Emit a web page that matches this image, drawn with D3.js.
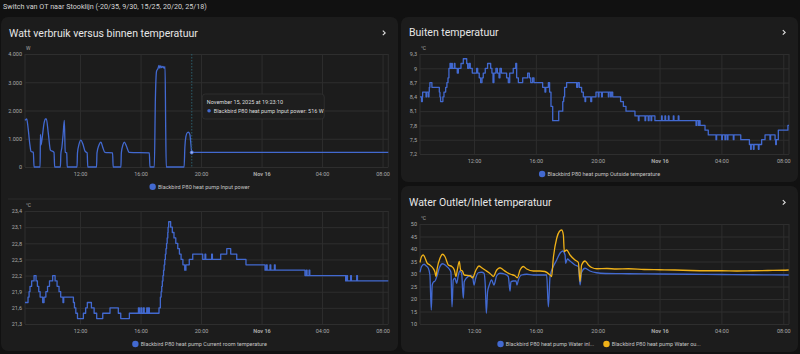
<!DOCTYPE html>
<html>
<head>
<meta charset="utf-8">
<script src="https://cdn.jsdelivr.net/npm/d3@7"></script>
<style>
body { margin: 0; background: #111111; font-family: Roboto, "Noto Sans", sans-serif; }
svg { display: block; }
</style>
</head>
<body>
<div id="dash"></div>
<script>
// hours since Nov 15 2025 00:00
const timeTicks = [12, 16, 20, 24, 28, 32]
const timeTickLabels = ["12:00", "16:00", "20:00", "Nov 16", "04:00", "08:00"]

const powerTicks = [0, 1000, 2000, 3000, 4000]
const roomTicks = [21.3, 21.6, 21.9, 22.2, 22.5, 22.8, 23.1, 23.4]
const outsideTicks = [7.2, 7.5, 7.8, 8.1, 8.4, 8.7, 9, 9.3]
const waterTicks = [10, 15, 20, 25, 30, 35, 40, 45, 50]

const inputPower = [[8.36,1650],[8.47,1700],[8.55,1450],[8.68,800],[8.76,550],[8.91,520],[8.96,0],[9.36,0],[9.38,1150],[9.42,780],[9.5,1050],[9.62,1550],[9.71,1700],[9.77,1700],[9.9,1200],[10.04,600],[10.28,520],[10.32,0],[10.70,0],[10.73,450],[10.8,700],[10.88,1150],[10.96,1650],[11.02,520],[11.12,500],[11.15,0],[11.80,0],[11.83,500],[11.93,800],[12.05,950],[12.18,820],[12.33,560],[12.47,500],[12.51,0],[13.09,0],[13.12,500],[13.24,760],[13.38,880],[13.5,700],[13.64,520],[14.15,500],[14.19,0],[14.70,0],[14.73,500],[14.84,790],[14.93,880],[15.05,760],[15.25,520],[16.58,500],[16.62,0],[16.91,0],[16.98,2400],[17.06,3400],[17.15,3480],[17.22,3600],[17.27,3500],[17.33,3580],[17.4,3520],[17.48,3560],[17.55,3500],[17.62,3550],[17.66,1500],[17.7,0],[18.88,0],[18.93,700],[19.0,1080],[19.1,1220],[19.17,1230],[19.26,1150],[19.33,800],[19.386,516],[32.38,516]]

const roomTemp = [[8.36,21.7],[8.56,21.8],[8.63,21.9],[8.69,22.0],[8.80,22.1],[8.96,22.2],[9.09,22.1],[9.18,22.0],[9.27,21.9],[9.36,21.8],[9.53,21.7],[9.62,21.8],[9.74,21.9],[9.85,22.0],[9.98,22.1],[10.19,22.2],[10.35,22.1],[10.48,22.0],[10.61,21.9],[10.72,21.8],[10.87,21.7],[10.92,21.8],[11.56,21.7],[11.63,21.6],[11.72,21.5],[11.83,21.4],[12.22,21.5],[12.37,21.6],[12.48,21.7],[12.75,21.6],[12.93,21.5],[13.10,21.4],[13.50,21.5],[13.98,21.6],[14.53,21.5],[14.69,21.4],[15.26,21.5],[15.86,21.6],[15.92,21.5],[16.02,21.6],[16.08,21.5],[16.19,21.6],[16.24,21.5],[16.41,21.6],[16.46,21.5],[16.52,21.6],[16.58,21.5],[17.22,21.6],[17.31,21.8],[17.36,21.9],[17.40,22.0],[17.44,22.1],[17.48,22.2],[17.52,22.3],[17.56,22.4],[17.60,22.5],[17.64,22.6],[17.68,22.7],[17.72,22.8],[17.76,22.9],[17.80,23.0],[17.82,23.1],[17.86,23.2],[17.99,23.1],[18.10,23.0],[18.21,22.9],[18.33,22.8],[18.46,22.7],[18.57,22.6],[18.68,22.5],[18.80,22.4],[18.92,22.3],[19.0,22.4],[19.22,22.5],[19.45,22.6],[20.11,22.5],[20.26,22.6],[20.31,22.5],[20.70,22.6],[20.75,22.5],[21.30,22.6],[21.70,22.7],[21.96,22.6],[22.36,22.5],[22.97,22.4],[24.23,22.3],[24.32,22.4],[24.37,22.3],[24.56,22.4],[24.61,22.3],[24.85,22.4],[24.90,22.3],[26.87,22.2],[26.96,22.3],[27.01,22.2],[27.14,22.3],[27.19,22.2],[29.56,22.1],[29.63,22.2],[29.68,22.1],[29.89,22.2],[29.94,22.1],[30.29,22.2],[30.34,22.1],[32.38,22.1]]

const outsideTemp = [[8.51,8.4],[8.61,8.3],[8.66,8.4],[8.68,8.5],[8.90,8.4],[8.94,8.5],[9.05,8.4],[9.09,8.5],[9.11,8.6],[9.15,8.7],[9.28,8.6],[9.76,8.5],[9.80,8.4],[9.84,8.3],[9.99,8.4],[10.06,8.5],[10.17,8.6],[10.25,8.7],[10.32,8.8],[10.38,9.0],[10.45,9.1],[10.49,9.0],[10.56,9.1],[10.60,9.0],[10.73,9.1],[10.77,9.0],[10.92,8.9],[10.99,9.0],[11.16,9.1],[11.31,9.2],[11.53,9.1],[11.59,9.0],[11.68,9.1],[11.76,9.0],[11.89,8.9],[12.17,9.0],[12.24,8.9],[12.34,8.8],[12.43,8.7],[12.52,8.8],[12.60,8.9],[12.73,9.0],[12.88,9.1],[13.08,9.0],[13.16,8.9],[13.23,8.7],[13.29,8.9],[13.42,9.0],[13.51,8.9],[13.62,8.8],[13.68,9.0],[13.77,8.9],[14.11,8.8],[14.22,8.7],[14.31,8.9],[14.54,9.0],[14.70,9.1],[14.76,8.8],[14.87,8.7],[15.15,8.8],[15.47,8.9],[15.58,8.8],[15.67,8.7],[15.79,8.8],[15.88,8.7],[16.44,8.6],[16.59,8.5],[16.64,8.6],[16.81,8.7],[16.89,8.5],[16.98,8.2],[17.09,7.9],[17.48,8.1],[17.74,8.3],[17.80,8.4],[17.86,8.6],[17.99,8.7],[18.64,8.6],[18.71,8.7],[18.81,8.6],[18.96,8.5],[19.07,8.4],[19.18,8.3],[19.22,8.4],[19.55,8.3],[19.61,8.4],[19.89,8.5],[20.04,8.4],[20.08,8.5],[20.25,8.4],[20.30,8.5],[20.69,8.4],[20.73,8.5],[20.84,8.4],[20.88,8.5],[20.97,8.4],[21.48,8.3],[21.66,8.2],[21.83,8.1],[22.41,8.0],[22.63,7.9],[22.67,8.0],[23.06,7.9],[23.10,8.0],[23.27,7.9],[23.32,8.0],[23.45,7.9],[23.49,8.0],[23.70,7.9],[24.13,8.0],[24.17,7.9],[24.35,8.0],[24.39,7.9],[24.57,8.0],[24.61,7.9],[24.89,8.0],[24.93,7.9],[25.21,8.0],[25.25,7.9],[26.36,7.8],[26.40,7.9],[26.51,7.8],[26.55,7.9],[26.62,7.8],[26.94,7.7],[27.15,7.6],[27.65,7.5],[27.69,7.6],[28.02,7.5],[28.06,7.6],[28.23,7.5],[28.27,7.6],[28.38,7.5],[28.42,7.6],[28.77,7.5],[28.81,7.6],[29.25,7.5],[29.81,7.4],[29.89,7.3],[29.93,7.4],[30.07,7.3],[30.11,7.4],[30.39,7.3],[30.43,7.4],[30.60,7.5],[30.82,7.6],[31.14,7.5],[31.18,7.6],[31.47,7.5],[31.51,7.4],[31.55,7.5],[31.68,7.7],[32.30,7.8],[32.37,7.8]]

const waterInlet = [[8.51,30.7],[8.61,33.0],[8.77,33.9],[8.90,33.3],[9.05,32.3],[9.15,29.6],[9.24,15.6],[9.30,25.6],[9.37,26.7],[9.48,27.2],[9.63,29.6],[9.76,32.5],[9.97,34.1],[10.19,33.3],[10.40,32.0],[10.51,30.7],[10.58,16.9],[10.66,27.6],[10.77,28.3],[10.88,26.3],[10.99,29.6],[11.09,31.2],[11.20,30.3],[11.31,20.3],[11.37,26.9],[11.53,28.5],[11.74,29.3],[11.91,29.0],[12.00,25.6],[12.11,28.3],[12.28,30.5],[12.50,30.7],[12.65,30.3],[12.73,25.6],[12.80,14.3],[12.88,22.9],[12.99,25.6],[13.14,27.6],[13.29,25.6],[13.47,29.3],[13.68,30.3],[14.01,29.9],[14.22,29.0],[14.33,23.2],[14.39,26.9],[14.54,27.2],[14.72,27.2],[14.78,25.6],[14.87,27.6],[15.08,29.6],[15.41,29.9],[15.84,29.6],[16.70,29.6],[16.81,16.9],[16.92,29.0],[17.13,33.0],[17.35,35.6],[17.56,38.3],[17.74,39.2],[17.89,37.6],[17.93,34.3],[18.04,36.0],[18.21,35.2],[18.53,33.6],[18.75,33.0],[18.86,25.6],[18.96,30.7],[19.18,32.3],[19.50,31.2],[19.93,30.5],[20.5,30.2],[22,30.1],[24,30.0],[26,29.9],[28,29.8],[30,29.7],[32.35,29.6]]

const waterOutlet = [[8.51,34.6],[8.61,37.0],[8.72,37.6],[8.83,36.5],[8.98,34.3],[9.15,33.6],[9.33,32.5],[9.48,30.7],[9.54,29.0],[9.63,32.5],[9.80,36.3],[9.97,37.9],[10.12,37.0],[10.34,33.6],[10.56,33.0],[10.73,31.6],[10.84,29.0],[10.92,31.6],[11.05,35.0],[11.14,31.6],[11.25,31.2],[11.37,29.6],[11.74,29.3],[11.91,28.5],[12.13,31.6],[12.32,33.2],[12.50,32.5],[12.71,31.6],[12.93,30.7],[13.14,29.6],[13.25,29.0],[13.47,31.6],[13.68,32.5],[13.90,31.6],[14.11,30.7],[14.37,29.9],[14.65,29.3],[14.80,28.5],[14.98,31.6],[15.19,33.0],[15.41,32.0],[15.84,31.2],[16.27,31.2],[16.59,31.0],[16.92,29.6],[17.02,29.0],[17.13,36.3],[17.35,44.3],[17.52,47.0],[17.67,47.6],[17.78,45.6],[17.84,39.0],[17.99,39.6],[18.21,37.6],[18.53,35.6],[18.75,34.6],[18.86,27.0],[18.96,33.6],[19.18,35.2],[19.40,33.6],[19.61,32.6],[19.95,32.1],[20.6,32.2],[21.2,32.0],[22.0,32.1],[23.0,31.8],[24.0,31.7],[25.0,31.6],[26.0,31.4],[27.0,31.3],[28.0,31.3],[29.0,31.2],[30.0,31.3],[31.0,31.4],[32.0,31.5],[32.35,31.6]]

const hoverPoint = { h: 19.386, value: 516, label: "November 15, 2025 at 19:23:10" }

const BLUE = "#4269d0", YELLOW = "#efb118"
const GRID = "#2e2e2e", LABEL = "#a9a9a9"

const base = new Date(2025, 10, 15)
function toDate(h){ return new Date(base.getTime() + h * 3600e3) }

const nl = d3.formatLocale({ decimal: ",", thousands: ".", grouping: [3], currency: ["€", ""] })

const svg = d3.select("#dash").append("svg")
    .attr("width", 800)
    .attr("height", 354)

svg.append("text")
    .attr("x", 3).attr("y", 9.3)
    .attr("fill", "#d4d4d4")
    .attr("font-size", 7.2)
    .text("Switch van OT naar Stooklijn (-20/35, 9/30, 15/25, 20/20, 25/18)")

// cards
const cards = [
    { x: 1, y: 17, w: 397, h: 334, title: "Watt verbruik versus binnen temperatuur", ty: 36.5 },
    { x: 401, y: 17, w: 397, h: 165, title: "Buiten temperatuur", ty: 36 },
    { x: 401, y: 186, w: 397, h: 166, title: "Water Outlet/Inlet temperatuur", ty: 206 }
]
cards.forEach(function(c){
    svg.append("rect")
        .attr("x", c.x).attr("y", c.y).attr("width", c.w).attr("height", c.h)
        .attr("rx", 7).attr("fill", "#1c1c1c")
    svg.append("text")
        .attr("x", c.x + 8).attr("y", c.ty)
        .attr("fill", "#e6e6e6")
        .attr("font-size", 10.5)
        .text(c.title)
    var cx = c.x + c.w - 14, cy = c.ty - 3.6
    svg.append("path")
        .attr("d", "M" + (cx - 1.2) + "," + (cy - 2.3) + "l2.4,2.3l-2.4,2.3")
        .attr("fill", "none").attr("stroke", "#e0e0e0").attr("stroke-width", 1.1)
})

// separator between the two charts of the left card
svg.append("line")
    .attr("x1", 8).attr("x2", 391).attr("y1", 199).attr("y2", 199)
    .attr("stroke", "#2b2b2b").attr("stroke-width", 1)

function drawChart(cfg){
    var g = svg.append("g")
    var x = d3.scaleTime().domain(cfg.domain.map(toDate)).range([cfg.left, cfg.right])
    var y = d3.scaleLinear().domain(d3.extent(cfg.ticks)).range([cfg.bottom, cfg.top])

    var yAxis = g.append("g")
        .attr("transform", "translate(" + cfg.left + ",0)")
        .call(d3.axisLeft(y).tickValues(cfg.ticks).tickFormat(cfg.fmt)
            .tickSize(-(cfg.right - cfg.left)).tickPadding(3))
    var xAxis = g.append("g")
        .attr("transform", "translate(0," + cfg.bottom + ")")
        .call(d3.axisBottom(x).tickValues(timeTicks.map(toDate))
            .tickFormat(function(d, i){ return timeTickLabels[i] })
            .tickSize(-(cfg.bottom - cfg.top)).tickPadding(5.2))
    ;[yAxis, xAxis].forEach(function(a){
        a.select(".domain").remove()
        a.selectAll("line").attr("stroke", GRID).attr("stroke-width", 1)
        a.selectAll("text").attr("fill", LABEL).attr("font-size", 5.5)
            .attr("font-family", "Roboto, sans-serif")
    })
    xAxis.selectAll("text").attr("font-weight", function(d, i){ return i == 3 ? "bold" : null })

    // plot boundaries
    g.selectAll(".edge").data(cfg.domain).enter().append("line")
        .attr("class", "edge")
        .attr("x1", function(d){ return x(toDate(d)) }).attr("x2", function(d){ return x(toDate(d)) })
        .attr("y1", cfg.top).attr("y2", cfg.bottom)
        .attr("stroke", GRID)

    g.append("text")
        .attr("x", cfg.left + 1).attr("y", cfg.top - 4)
        .attr("fill", LABEL).attr("font-size", 5)
        .text(cfg.unit)

    var line = d3.line()
        .x(function(d){ return x(toDate(d[0])) })
        .y(function(d){ return y(d[1]) })
        .curve(cfg.curve)
    cfg.series.forEach(function(s){
        g.append("path")
            .datum(s.data)
            .attr("fill", "none")
            .attr("stroke", s.color)
            .attr("stroke-width", 1.3)
            .attr("stroke-linejoin", "round")
            .attr("d", line)
    })

    // legend, centred
    var leg = g.append("g")
    var offset = 0
    cfg.series.forEach(function(s, i){
        var item = leg.append("g").attr("transform", "translate(" + offset + ",0)")
        item.append("circle").attr("cx", 3.2).attr("cy", 0).attr("r", 3.2).attr("fill", s.color)
        var t = item.append("text")
            .attr("x", 8.5).attr("y", 2)
            .attr("fill", "#c4c4c4").attr("font-size", 5.5)
            .text(s.name)
        offset += 8.5 + t.node().getComputedTextLength() + 9
    })
    var legW = offset - 9
    leg.attr("transform", "translate(" + (cfg.legendCenter - legW / 2) + "," + cfg.legendY + ")")

    return { x: x, y: y, g: g }
}

var c1 = drawChart({
    domain: [8.36, 32.38], left: 25, right: 388.3, top: 54, bottom: 167,
    ticks: powerTicks, fmt: nl.format(",.0f"), unit: "W",
    curve: d3.curveMonotoneX,
    series: [{ data: inputPower, color: BLUE, name: "Blackbird P80 heat pump Input power" }],
    legendCenter: 199.5, legendY: 186.7
})

drawChart({
    domain: [8.36, 32.38], left: 25, right: 388.3, top: 211, bottom: 324,
    ticks: roomTicks, fmt: nl.format(".1f"), unit: "°C",
    curve: d3.curveStepAfter,
    series: [{ data: roomTemp, color: BLUE, name: "Blackbird P80 heat pump Current room temperature" }],
    legendCenter: 199.5, legendY: 344
})

drawChart({
    domain: [8.51, 32.37], left: 420, right: 789, top: 54, bottom: 154,
    ticks: outsideTicks, fmt: nl.format(".1~f"), unit: "°C",
    curve: d3.curveStepAfter,
    series: [{ data: outsideTemp, color: BLUE, name: "Blackbird P80 heat pump Outside temperature" }],
    legendCenter: 599.5, legendY: 174
})

drawChart({
    domain: [8.51, 32.37], left: 420, right: 789, top: 224, bottom: 324,
    ticks: waterTicks, fmt: nl.format("d"), unit: "°C",
    curve: d3.curveMonotoneX,
    series: [
        { data: waterInlet, color: BLUE, name: "Blackbird P80 heat pump Water inl..." },
        { data: waterOutlet, color: YELLOW, name: "Blackbird P80 heat pump Water ou..." }
    ],
    legendCenter: 599, legendY: 344
})

// hover state on the power chart
var hx = c1.x(toDate(hoverPoint.h)), hy = c1.y(hoverPoint.value)
c1.g.append("line")
    .attr("x1", hx).attr("x2", hx).attr("y1", 54).attr("y2", 167)
    .attr("stroke", "#2b5d6b").attr("stroke-width", 1)
    .attr("stroke-dasharray", "1.5,1.5")
c1.g.append("circle")
    .attr("cx", hx).attr("cy", hy).attr("r", 1.6)
    .attr("fill", "#9fb4f0").attr("stroke", BLUE).attr("stroke-width", 0.8)

var tip = c1.g.append("g").attr("transform", "translate(" + (hx + 10.5) + ",94)")
tip.append("rect")
    .attr("width", 122).attr("height", 25).attr("rx", 3)
    .attr("fill", "#1e1e1e").attr("stroke", "#333333").attr("stroke-width", 0.7)
tip.append("text")
    .attr("x", 4.5).attr("y", 10.2)
    .attr("fill", "#dcdcdc").attr("font-size", 5.5)
    .text(hoverPoint.label)
tip.append("circle").attr("cx", 6.8).attr("cy", 16.7).attr("r", 1.8).attr("fill", BLUE)
tip.append("text")
    .attr("x", 11.5).attr("y", 18.7)
    .attr("fill", "#dcdcdc").attr("font-size", 5.5)
    .text("Blackbird P80 heat pump Input power: " + hoverPoint.value + " W")
</script>
</body>
</html>
